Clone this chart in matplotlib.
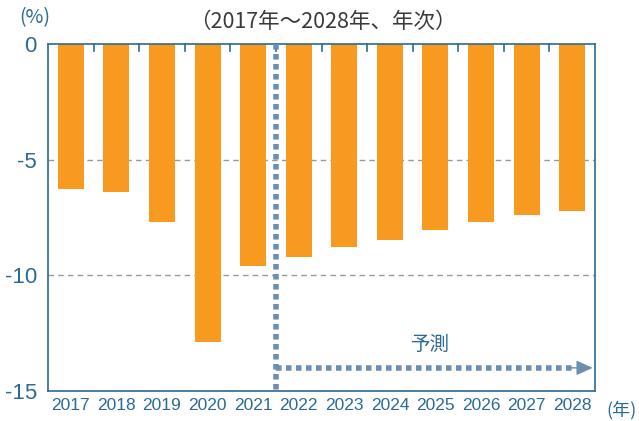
import matplotlib.pyplot as plt
import numpy as np

plt.rcParams['font.family'] = ['Noto Sans CJK JP', 'DejaVu Sans']

anos = ['2017', '2018', '2019', '2020', '2021', '2022', '2023', '2024',
        '2025', '2026', '2027', '2028']
valores = [-6.26, -6.39, -7.71, -12.9, -9.61, -9.22, -8.79, -8.49,
           -8.02, -7.68, -7.41, -7.24]
yticks = [0, -5, -10, -15]
ytick_labels = ['0', '-5', '-10', '-15']

azul = '#2b6a94'
laranja = '#f79a1f'
pontilhado = '#6a8fb2'

fig = plt.figure(figsize=(6.39, 4.21), dpi=100)
ax = fig.add_axes([48/639, 1-391/421, 547/639, 347/421])

x = np.arange(len(anos))
ax.bar(x, valores, width=0.57, color=laranja, zorder=2)

ax.set_xlim(-0.5, len(anos) - 0.5)
ax.set_ylim(-15, 0)

# grade tracejada
for v in [-5, -10]:
    ax.axhline(v, color='#999999', lw=1, ls=(0, (4, 3)), zorder=1)

for s in ax.spines.values():
    s.set_color(azul)
    s.set_linewidth(1.2)

ax.set_yticks(yticks)
ax.set_yticklabels(ytick_labels, fontsize=16, color=azul, family='Liberation Sans')
ax.tick_params(axis='y', length=0, pad=8)
ax.set_xticks(x)
ax.set_xticklabels(anos, fontsize=12.5, color=azul, family='Liberation Sans')
ax.tick_params(axis='x', length=0, pad=5)

# marcas no topo entre as barras
for b in np.arange(0.5, len(anos) - 1, 1):
    ax.plot([b, b], [0, -0.3], color=azul, lw=1.2, zorder=3, clip_on=False)

# linha do inicio da projecao
ax.plot([4.5, 4.5], [0, -15], color=pontilhado, lw=4, ls=(0, (1, 0.8)),
        dash_capstyle='butt', zorder=4, clip_on=False)
ax.plot([4.5, 11.0], [-14.0, -14.0], color=pontilhado, lw=4, ls=(0, (1, 0.8)),
        dash_capstyle='butt', zorder=4)
ax.annotate('', xy=(11.45, -14.0), xytext=(10.95, -14.0),
            arrowprops=dict(arrowstyle='-|>,head_length=1.0,head_width=0.45',
                            color=pontilhado, lw=1, shrinkA=0, shrinkB=0),
            zorder=4)
ax.text(7.9, -13.0, '予測', fontsize=14, color=azul, ha='center', va='center')

fig.text(323/639, 1-22/421, '（2017年～2028年、年次）', fontsize=15.5,
         color='#3a3a3a', ha='center', va='center')
fig.text(35/639, 1-18/421, '(%)', fontsize=14, color=azul, ha='center', va='center')
fig.text(622/639, 1-410/421, '(年)', fontsize=13, color=azul, ha='center', va='center')

plt.savefig('out.png', dpi=100)
